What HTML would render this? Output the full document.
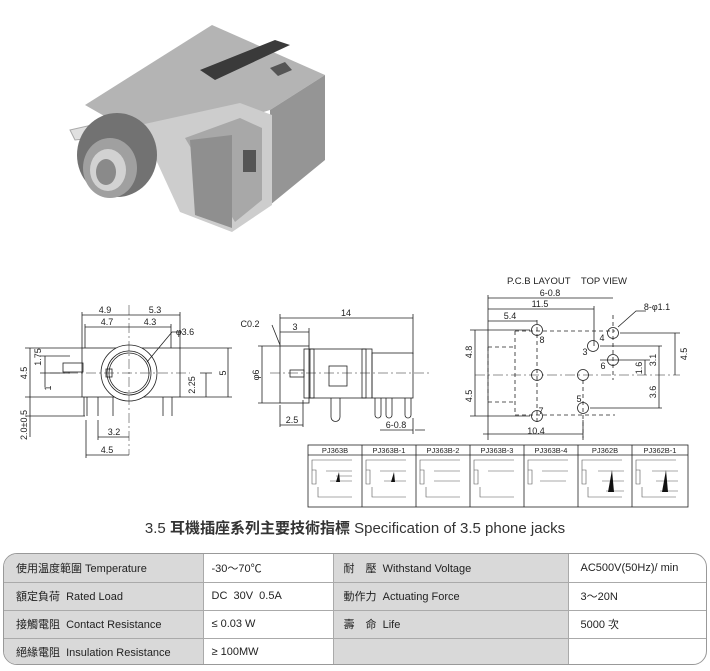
<!DOCTYPE html>
<html><head><meta charset="utf-8"><style>
body{margin:0;width:710px;height:671px;background:#fff;overflow:hidden;font-family:"Liberation Sans","Noto Sans CJK TC",sans-serif}
svg{position:absolute;left:0;top:0}
.d{font-family:"Liberation Sans",sans-serif;font-size:9px;fill:#222}
</style></head><body>
<svg width="710" height="671" viewBox="0 0 710 671">
<!-- photo -->
<g>
<polygon points="70,130 105,122 120,135 75,140" fill="#e0e0e0" stroke="#aaa"/>
<polygon points="85,105 212,25 325,75 270,110 175,140 120,125" fill="#b4b4b4"/>
<polygon points="325,75 325,160 270,205 270,110" fill="#959595"/>
<polygon points="200,70 275,40 290,45 215,80" fill="#3a3a3a"/>
<polygon points="270,68 285,62 292,70 278,76" fill="#555"/>
<polygon points="140,125 240,103 272,115 272,205 232,232 180,212" fill="#cdcdcd"/>
<polygon points="185,138 240,118 262,128 262,200 235,222" fill="#a8a8a8"/>
<polygon points="190,140 232,135 232,228 195,215" fill="#8f8f8f"/>
<rect x="243" y="150" width="13" height="22" fill="#555"/>
<ellipse cx="117" cy="155" rx="40" ry="42" fill="#727272"/>
<ellipse cx="110" cy="168" rx="27" ry="30" fill="#a0a0a0"/>
<ellipse cx="108" cy="170" rx="18" ry="21" fill="#d2d2d2"/>
<ellipse cx="106" cy="172" rx="10" ry="13" fill="#8a8a8a"/>
</g>

<g stroke="#222" stroke-width="0.8" fill="none">
<rect x="82" y="348" width="98" height="49"/>
<rect x="63" y="363" width="20" height="9"/>
<circle cx="129" cy="373" r="28" fill="#fff"/>
<circle cx="129" cy="373" r="22"/>
<circle cx="129" cy="373" r="20"/>
<rect x="106" y="369" width="6" height="8"/>
<path d="M84,397v19M87,397v19M98,397v19M113,397v19M163,397v19M172,397v19"/>
<path d="M129,305v150M50,373h140" stroke-dasharray="10,3,2,3" stroke-width="0.5"/>
<path d="M82,312v36M180,312v36M85,324v24M171,324v24M82,315h98M85,327h86"/>
<path d="M25,348h57M25,397h57M25,416h60M30,348v49M30,397v40M40,356h30M40,373h30M45,356v17M45,373v14"/>
<path d="M98,420v20M86,420v38M98,437h31M86,455h43"/>
<path d="M180,348h52M180,397h52M228,348v49M200,373h12M200,397h12M206,373v24"/>
<path d="M147,362l25,-30h10"/>
<rect x="280" y="346" width="29" height="57"/>
<rect x="304" y="349" width="68" height="49"/>
<rect x="310" y="349" width="4" height="49"/>
<rect x="362" y="349" width="4" height="49"/>
<rect x="372" y="353" width="41" height="45"/>
<rect x="329" y="366" width="18" height="20"/>
<rect x="290" y="370" width="14" height="7"/>
<path d="M331,398v19a4,4 0 0 0 9,0v-19M375,398v17a3,3 0 0 0 6,0v-17M386,398v17a3,3 0 0 0 6,0v-17M405,398v17a3,3 0 0 0 6,0v-17"/>
<path d="M270,373h160" stroke-dasharray="10,3,2,3" stroke-width="0.5"/>
<path d="M280,314v32M413,314v40M280,318h133M309,328v18M280,332h29M258,346h22M258,403h22M262,346v57M280,405v22M303,400v27M280,425h23M413,418v16M380,430h33M415,430h10"/>
<path d="M272,325l8,20"/>
<path d="M515,331h100M515,331v84M515,415h100M488,347h27M488,402h27M488,347v55M537,320v105M583,380v60M613,315v65" stroke-dasharray="4,3"/>
<path d="M475,375h205" stroke-dasharray="10,3,2,3" stroke-width="0.5"/>
<circle cx="537" cy="330" r="5.5"/><circle cx="537" cy="375" r="5.5"/><circle cx="537" cy="416" r="5.5"/>
<circle cx="583" cy="375" r="5.5"/><circle cx="583" cy="408" r="5.5"/><circle cx="593" cy="346" r="5.5"/>
<circle cx="613" cy="333" r="5.5"/><circle cx="613" cy="360" r="5.5"/>
<path d="M488,295v145M488,298h125M488,309h106M594,306v40M488,321h49M470,330h60M470,416h60M475,330v86M483,434h100M583,420v18"/>
<path d="M620,333h60M600,346h62M600,360h50M590,408h72M675,333v42M659,346v62M645,360v15"/>
<path d="M618,327l18,-16h10"/>
<rect x="308" y="445" width="380" height="62"/>
<path d="M308,455h380M362,445v62M416,445v62M470,445v62M524,445v62M578,445v62M632,445v62"/>
</g>
<g class="d" text-anchor="middle">
<text x="105" y="313">4.9</text><text x="155" y="313">5.3</text>
<text x="107" y="325">4.7</text><text x="150" y="325">4.3</text>
<text x="185" y="335">φ3.6</text>
<text x="114" y="435">3.2</text><text x="107" y="453">4.5</text>
<text transform="translate(27,373) rotate(-90)">4.5</text>
<text transform="translate(41,357) rotate(-90)">1.75</text>
<text transform="translate(51,388) rotate(-90)">1</text>
<text transform="translate(27,425) rotate(-90)">2.0±0.5</text>
<text transform="translate(195,385) rotate(-90)">2.25</text>
<text transform="translate(226,373) rotate(-90)">5</text>
<text x="346" y="316">14</text><text x="295" y="330">3</text><text x="250" y="327">C0.2</text>
<text x="292" y="423">2.5</text><text x="396" y="428">6-0.8</text>
<text transform="translate(259,375) rotate(-90)">φ6</text>
<text x="567" y="284" font-size="9.5">P.C.B LAYOUT&#160;&#160;&#160; TOP VIEW</text>
<text x="550" y="296">6-0.8</text><text x="540" y="307">11.5</text><text x="510" y="319">5.4</text>
<text x="657" y="310">8-φ1.1</text><text x="536" y="434">10.4</text>
<text transform="translate(472,352) rotate(-90)">4.8</text>
<text transform="translate(472,396) rotate(-90)">4.5</text>
<text transform="translate(687,354) rotate(-90)">4.5</text>
<text transform="translate(656,360) rotate(-90)">3.1</text>
<text transform="translate(656,392) rotate(-90)">3.6</text>
<text transform="translate(642,368) rotate(-90)">1.6</text>
<text x="542" y="343">8</text><text x="541" y="414">7</text><text x="579" y="402">5</text>
<text x="585" y="355">3</text><text x="602" y="341">4</text><text x="603" y="369">6</text>
<g font-size="7.5"><text x="335" y="453">PJ363B</text><text x="389" y="453">PJ363B-1</text><text x="443" y="453">PJ363B-2</text><text x="497" y="453">PJ363B-3</text><text x="551" y="453">PJ363B-4</text><text x="605" y="453">PJ362B</text><text x="660" y="453">PJ362B-1</text></g>
</g>
<g stroke="#555" stroke-width="0.6" fill="none">
<path d="M312,470v-10h40M312,470v14h4v-14zM318,487v10h34M326,471h26M330,481h22M336,476h16"/>
<path d="M366,470v-10h40M366,470v14h4v-14zM372,487v10h34M380,471h26M384,481h22"/>
<path d="M420,470v-10h40M420,470v14h4v-14zM426,487v10h34M434,471h26M434,481h26"/>
<path d="M474,470v-10h40M474,470v14h4v-14zM480,487v10h34M488,471h26"/>
<path d="M528,470v-10h40M528,470v14h4v-14zM542,471h26M540,481h26"/>
<path d="M582,470v-10h40M582,470v14h4v-14zM588,487v10h34M598,471h26M602,481h22M606,491h18"/>
<path d="M636,470v-10h40M636,470v14h4v-14zM642,487v10h34M652,471h26M656,481h22M660,491h18"/>
</g>
<g fill="#111"><polygon points="336,482 339,472 340,482"/><polygon points="391,482 394,472 395,482"/><polygon points="608,492 612,470 614,492"/><polygon points="662,492 666,470 668,492"/></g>
</svg>

<div style="position:absolute;left:0;top:517px;width:710px;text-align:center;font-size:15px;color:#333">3.5 <b>耳機插座系列主要技術指標</b> Specification of 3.5 phone jacks</div>

<div style="position:absolute;left:3px;top:553px;width:702px;height:110px;border:1px solid #999;border-radius:14px;overflow:hidden">
<table style="border-collapse:collapse;width:702px;font-size:11px;color:#222">
<colgroup><col style="width:199px"><col style="width:130px"><col style="width:235px"><col style="width:138px"></colgroup>
<tr style="height:28px"><td style="background:#d9d9d9;padding-left:12px">使用温度範圍 Temperature</td><td style="padding-left:8px;border-left:1px solid #aaa">-30～70℃</td><td style="background:#d9d9d9;padding-left:10px;border-left:1px solid #aaa">耐　壓&#160; Withstand Voltage</td><td style="padding-left:12px;border-left:1px solid #aaa">AC500V(50Hz)/ min</td></tr>
<tr style="height:28px;border-top:1px solid #aaa"><td style="background:#d9d9d9;padding-left:12px">額定負荷&#160; Rated Load</td><td style="padding-left:8px;border-left:1px solid #aaa">DC&#160; 30V&#160; 0.5A</td><td style="background:#d9d9d9;padding-left:10px;border-left:1px solid #aaa">動作力&#160; Actuating Force</td><td style="padding-left:12px;border-left:1px solid #aaa">3～20N</td></tr>
<tr style="height:28px;border-top:1px solid #aaa"><td style="background:#d9d9d9;padding-left:12px">接觸電阻&#160; Contact Resistance</td><td style="padding-left:8px;border-left:1px solid #aaa">≤ 0.03 W</td><td style="background:#d9d9d9;padding-left:10px;border-left:1px solid #aaa">壽　命&#160; Life</td><td style="padding-left:12px;border-left:1px solid #aaa">5000 次</td></tr>
<tr style="height:27px;border-top:1px solid #aaa"><td style="background:#d9d9d9;padding-left:12px">絕緣電阻&#160; Insulation Resistance</td><td style="padding-left:8px;border-left:1px solid #aaa">≥ 100MW</td><td style="background:#d9d9d9;border-left:1px solid #aaa"></td><td style="border-left:1px solid #aaa"></td></tr>
</table></div>
</body></html>
